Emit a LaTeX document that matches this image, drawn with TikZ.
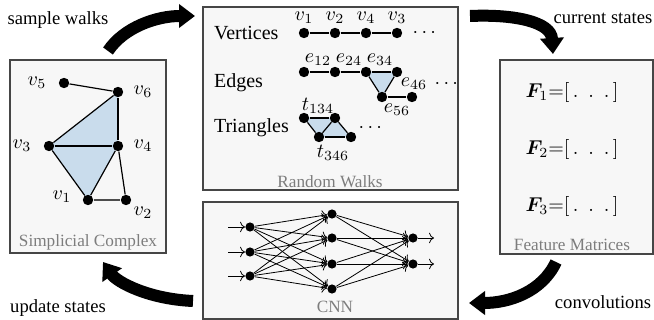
\documentclass[tikz,border=0pt]{standalone}
\usepackage{fontspec}
\setmainfont{Liberation Serif}
\usepackage{amsmath}
\usepackage{bm}
\usetikzlibrary{arrows.meta, positioning}

\definecolor{panelfill}{RGB}{247,247,247}
\definecolor{panelline}{RGB}{70,70,70}
\definecolor{capgray}{RGB}{125,125,125}
\definecolor{simplex}{RGB}{201,220,236}

\begin{document}
\begin{tikzpicture}[x=0.5pt, y=-0.5pt,
  panel/.style={draw=panelline, fill=panelfill, line width=0.7pt, inner sep=0pt},
  dot/.style={circle, fill=black, inner sep=0pt, minimum size=5.2pt},
  ndot/.style={circle, fill=black, inner sep=0pt, minimum size=4.6pt},
  captext/.style={text=capgray, font=\fontsize{8.6}{10}\selectfont},
  steplabel/.style={font=\fontsize{9.3}{11}\selectfont},
  rowname/.style={anchor=west},
  link/.style={line width=0.6pt},
  nn/.style={->, line width=0.4pt},
  bigarrow/.style={line width=6pt, -{Triangle[length=8pt, width=11.5pt]}}]
\useasboundingbox (0,0) rectangle (654,320);

% four panels
\node[panel, minimum width=78pt, minimum height=96.5pt] (sc) at (88,156.5) {};
\node[panel, minimum width=127.5pt, minimum height=91.5pt] (rw) at (330.5,98.5) {};
\node[panel, minimum width=76.5pt, minimum height=97pt] (fm) at (576.5,157) {};
\node[panel, minimum width=127.5pt, minimum height=58.5pt] (cnn) at (330.5,260.5) {};

% simplicial complex
\coordinate (p1) at (88,200);
\coordinate (p2) at (126,200);
\coordinate (p3) at (49,146);
\coordinate (p4) at (118,146);
\coordinate (p5) at (64,83);
\coordinate (p6) at (118,92);
\fill[simplex] (p3) -- (p6) -- (p4) -- cycle;
\fill[simplex] (p3) -- (p4) -- (p1) -- cycle;
\foreach \k in {1,...,6}{
\node[dot] (v\k) at (p\k) {};
}
\draw[link] (v5) -- (v6);
\draw[link] (v6) -- (v3);
\draw[link] (v6) -- (v4);
\draw[line width=0.9pt] (v3) -- (v4);
\draw[link] (v3) -- (v1);
\draw[link] (v4) -- (v1);
\draw[link] (v4) -- (v2);
\draw[link, draw=black!70] (v1) -- (v2);
\node (lv1) at (62,197) {$v_1$};
\node (lv2) at (143,213) {$v_2$};
\node (lv3) at (22,146) {$v_3$};
\node (lv4) at (143,146) {$v_4$};
\node (lv5) at (37,83) {$v_5$};
\node (lv6) at (143,92) {$v_6$};
\node[captext] (sccap) at (88,242) {Simplicial Complex};

% random walks: vertices
\node[rowname] (vname) at (207,33) {Vertices};
\foreach \k/\x in {1/304,2/335,3/366,4/397}{
\node[dot] (a\k) at (\x,33) {};
}
\draw[link] (a1) -- (a2);
\draw[link] (a2) -- (a3);
\draw[link] (a3) -- (a4);
\node (la1) at (304,18) {$v_1$};
\node (la2) at (335,18) {$v_2$};
\node (la3) at (366,18) {$v_4$};
\node (la4) at (397,18) {$v_3$};
\node (adots) at (426,33) {$\cdots$};

% random walks: edges
\node[rowname] (ename) at (207,83) {Edges};
\coordinate (q1) at (304,72);
\coordinate (q2) at (335,72);
\coordinate (q3) at (366,72);
\coordinate (q4) at (397,72);
\coordinate (q5) at (382,97);
\coordinate (q6) at (412,97);
\fill[simplex] (q3) -- (q4) -- (q5) -- cycle;
\foreach \k in {1,...,6}{
\node[dot] (b\k) at (q\k) {};
}
\draw[link] (b1) -- (b2);
\draw[link] (b2) -- (b3);
\draw[link] (b3) -- (b4);
\draw[link] (b4) -- (b5);
\draw[link] (b3) -- (b5);
\draw[link] (b5) -- (b6);
\node (le12) at (318,60) {$e_{12}$};
\node (le24) at (349,60) {$e_{24}$};
\node (le34) at (380,60) {$e_{34}$};
\node (le46) at (414,84) {$e_{46}$};
\node (le56) at (397,110) {$e_{56}$};
\node (bdots) at (448,84) {$\cdots$};

% random walks: triangles
\node[rowname] (tname) at (207,128) {Triangles};
\coordinate (r1) at (304,118);
\coordinate (r2) at (335,118);
\coordinate (r3) at (319,137);
\coordinate (r4) at (351,137);
\fill[simplex] (r1) -- (r2) -- (r3) -- cycle;
\fill[simplex] (r2) -- (r4) -- (r3) -- cycle;
\foreach \k in {1,...,4}{
\node[dot] (c\k) at (r\k) {};
}
\draw[link] (c1) -- (c2);
\draw[link] (c1) -- (c3);
\draw[link] (c2) -- (c3);
\draw[link] (c2) -- (c4);
\draw[link] (c3) -- (c4);
\node (lt134) at (318,106) {$t_{134}$};
\node (lt346) at (333,153) {$t_{346}$};
\node (cdots) at (372,128) {$\cdots$};
\node[captext] (rwcap) at (330,182) {Random Walks};

% feature matrices
\foreach \k/\y in {1/93,2/150,3/207}{
\node (f\k) at (572,\y) {$\bm{F}_{\k}{=}[\,.\enspace.\enspace.\,]$};
}
\node[captext] (fmcap) at (572,245) {Feature Matrices};

% cnn layers
\foreach \k/\y in {1/227,2/252,3/276}{
\node[ndot] (i\k) at (250,\y) {};
\coordinate (in\k) at (228,\y);
\draw[nn] (in\k) -- (i\k);
}
\foreach \k/\y in {1/214,2/238,3/264,4/289}{
\node[ndot] (h\k) at (332,\y) {};
}
\foreach \k/\y in {1/238,2/264}{
\node[ndot] (o\k) at (413,\y) {};
\coordinate (out\k) at (434,\y);
\draw[nn] (o\k) -- (out\k);
}
\foreach \i in {1,2,3}{
\foreach \h in {1,...,4}{
\draw[nn] (i\i) -- (h\h);
}}
\foreach \h in {1,...,4}{
\foreach \o in {1,2}{
\draw[nn] (h\h) -- (o\o);
}}
\node[captext] (cnncap) at (335,307) {CNN};

% loop between the panels
\coordinate (swtail) at (108,51);
\coordinate (swtip) at (195,16);
\coordinate (cstail) at (470,16);
\coordinate (cstip) at (553,54);
\coordinate (cvtail) at (556,262);
\coordinate (cvtip) at (469,303);
\coordinate (ustail) at (193,301);
\coordinate (ustip) at (103,262);
\draw[bigarrow] (swtail) .. controls +(16,-24) and +(-38,0) .. (swtip);
\draw[bigarrow] (cstail) .. controls +(45,-2) and +(-2,-32) .. (cstip);
\draw[bigarrow] (cvtail) .. controls +(-14,30) and +(40,0) .. (cvtip);
\draw[bigarrow] (ustail) .. controls +(-45,-2) and +(14,20) .. (ustip);
\node[steplabel] (swlabel) at (58,20) {sample walks};
\node[steplabel] (cslabel) at (603,18) {current states};
\node[steplabel] (cvlabel) at (603,302) {convolutions};
\node[steplabel] (uslabel) at (58,308) {update states};
\end{tikzpicture}
\end{document}
